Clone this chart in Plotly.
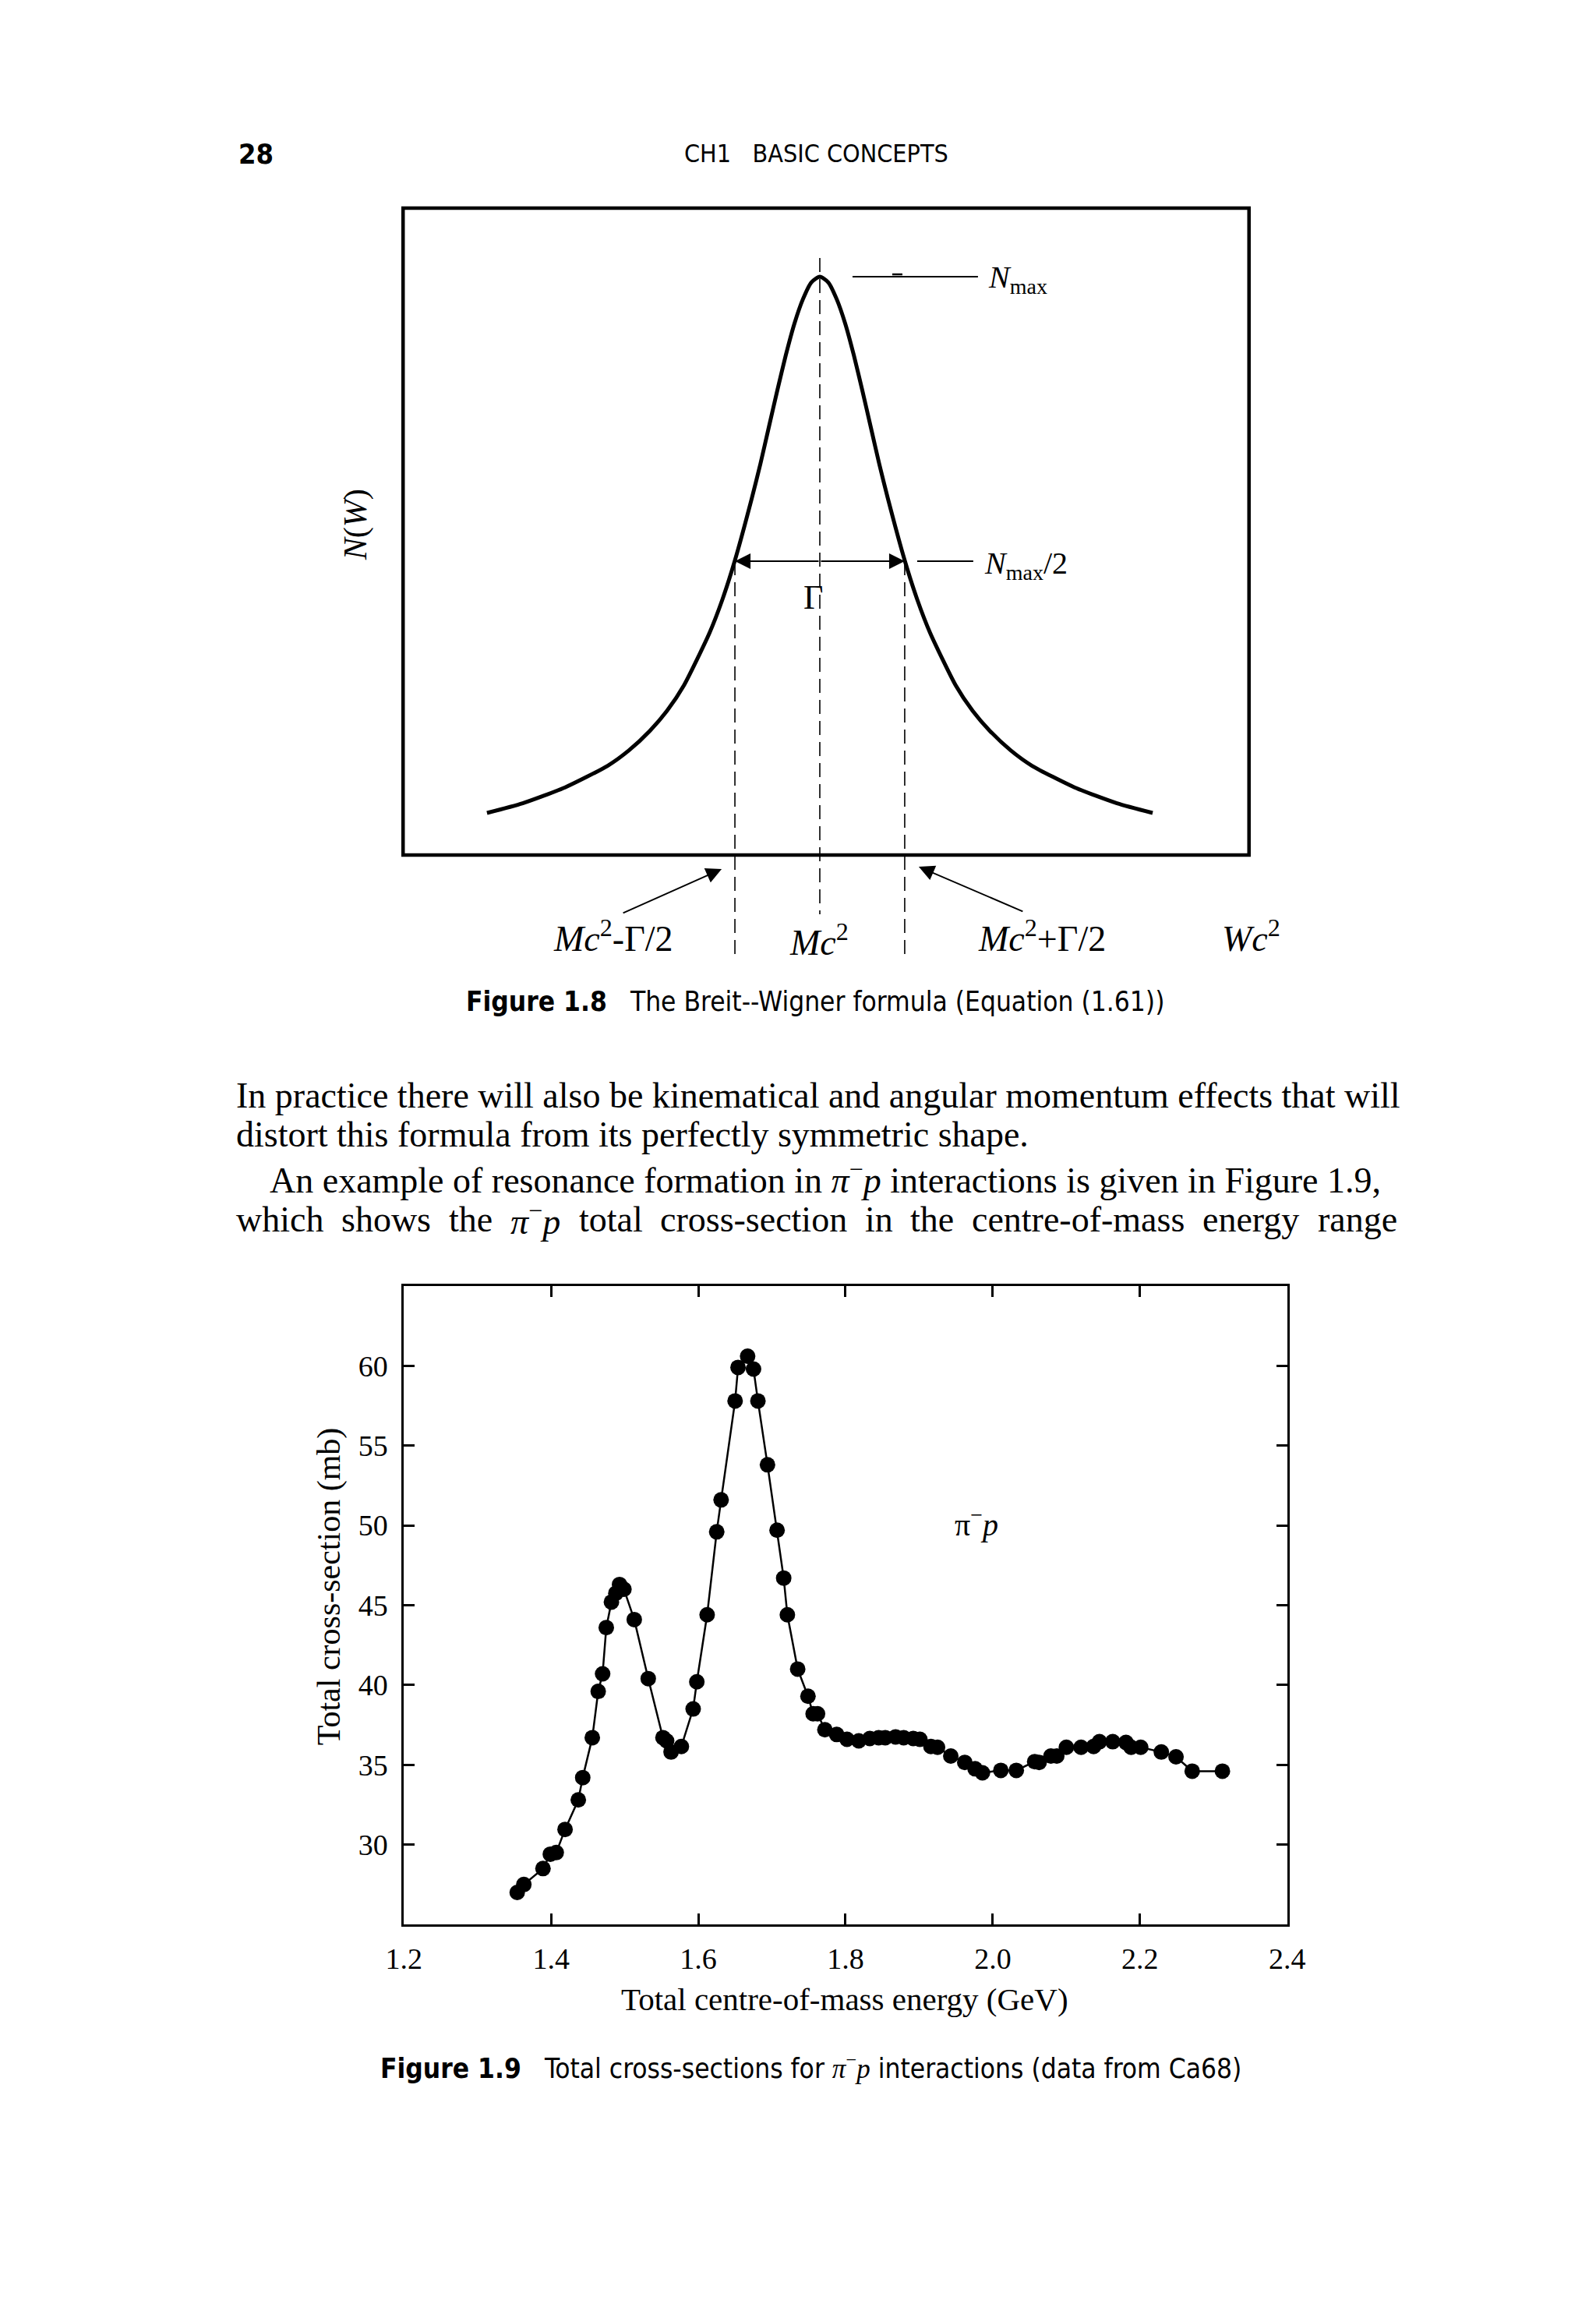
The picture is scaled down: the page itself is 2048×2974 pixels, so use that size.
import plotly.graph_objects as go

W, H = 2048, 2974

# ---------------- Figure 1.8 (Breit-Wigner) : values ----------------
# x in units of Gamma/2 measured from Mc^2, y in units of N_max
bw_x = [-3.92, -3.5, -3.0, -2.5, -2.25, -2.0, -1.8, -1.6, -1.3, -1.15, -1.0, -0.8, -0.7, -0.6, -0.5,
        -0.4, -0.3, -0.2, -0.1, 0.0,
        0.1, 0.2, 0.3, 0.4, 0.5, 0.6, 0.7, 0.8, 1.0, 1.15, 1.3, 1.6, 1.8, 2.0, 2.25, 2.5, 3.0, 3.5, 3.92]
bw_y = [0.055, 0.072, 0.10, 0.138, 0.165, 0.20, 0.235, 0.28, 0.372, 0.43, 0.50, 0.61, 0.67, 0.735, 0.80,
        0.862, 0.917, 0.96, 0.99, 1.0,
        0.99, 0.96, 0.917, 0.862, 0.80, 0.735, 0.67, 0.61, 0.50, 0.43, 0.372, 0.28, 0.235, 0.20, 0.165, 0.138,
        0.10, 0.072, 0.055]
bw_axis_labels = ["<i>Mc</i><sup>2</sup>-Γ/2", "<i>Mc</i><sup>2</sup>", "<i>Mc</i><sup>2</sup>+Γ/2", "<i>Wc</i><sup>2</sup>"]

# ---------------- Figure 1.9 (pi- p total cross-section) ----------------
energy = [1.354, 1.363, 1.389, 1.399, 1.407, 1.419, 1.437, 1.443, 1.456, 1.464, 1.470, 1.475,
          1.482, 1.488, 1.493, 1.499, 1.513, 1.532, 1.552, 1.557, 1.563, 1.577, 1.593, 1.598,
          1.612, 1.625, 1.631, 1.650, 1.654, 1.667, 1.675, 1.681, 1.694, 1.707, 1.716, 1.721,
          1.735, 1.749, 1.756, 1.762, 1.772, 1.788, 1.802, 1.818, 1.833, 1.845, 1.854, 1.868,
          1.879, 1.892, 1.901, 1.916, 1.925, 1.943, 1.962, 1.976, 1.986, 2.011, 2.032, 2.057,
          2.063, 2.079, 2.087, 2.100, 2.120, 2.137, 2.145, 2.163, 2.181, 2.188, 2.201, 2.229,
          2.249, 2.271, 2.312]
sigma = [27.0, 27.5, 28.5, 29.4, 29.5, 30.95, 32.8, 34.2, 36.7, 39.6, 40.7, 43.6,
         45.2, 45.75, 46.3, 46.0, 44.1, 40.4, 36.7, 36.5, 35.8, 36.15, 38.5, 40.2,
         44.4, 49.6, 51.6, 57.8, 59.9, 60.6, 59.8, 57.8, 53.8, 49.7, 46.7, 44.4,
         41.0, 39.3, 38.2, 38.2, 37.2, 36.9, 36.6, 36.5, 36.65, 36.7, 36.7, 36.75,
         36.7, 36.65, 36.6, 36.15, 36.1, 35.55, 35.15, 34.75, 34.5, 34.65, 34.65, 35.2,
         35.15, 35.55, 35.55, 36.1, 36.1, 36.15, 36.45, 36.45, 36.4, 36.1, 36.1, 35.8,
         35.5, 34.6, 34.6]
x_ticks = [1.2, 1.4, 1.6, 1.8, 2.0, 2.2, 2.4]
x_tick_text = ["1.2", "1.4", "1.6", "1.8", "2.0", "2.2", "2.4"]
y_ticks = [30, 35, 40, 45, 50, 55, 60]
y_tick_text = ["30", "35", "40", "45", "50", "55", "60"]

SERIF = "Liberation Serif, Times New Roman, serif"
NARROW = "Liberation Sans Narrow, DejaVu Sans Condensed, Arial Narrow, sans-serif"
BLACK = "#000000"

# observed render offset of the page (layout px -> screen px)
SX, OX, OY = 0.977, 1031.0, 8.0


def rx(L):
    return OX + SX * (L - 1024.0)


def px(p):
    return (1024.0 + (p - OX) / SX) / W


def py(p):
    return 1 - (p - OY) / H


C0, HALF = 1051.0, 109.0
N0, NMAX = 1083.0, 728.0


def fx(p):
    return (p - C0) / HALF


def fy(p):
    return (N0 - p) / NMAX


fig = go.Figure()

fig.add_trace(go.Scatter(x=bw_x, y=bw_y, mode="lines",
                         line=dict(color=BLACK, width=5, shape="spline", smoothing=0.6),
                         xaxis="x2", yaxis="y2", hoverinfo="skip", showlegend=False))

fig.add_trace(go.Scatter(x=energy, y=sigma, mode="lines+markers",
                         line=dict(color=BLACK, width=2.5),
                         marker=dict(color=BLACK, size=20, line=dict(width=0)),
                         xaxis="x", yaxis="y", hoverinfo="skip", showlegend=False))

shapes = []
shapes.append(dict(type="rect", xref="x2", yref="y2", x0=fx(516), x1=fx(1602), y0=fy(1097), y1=fy(267),
                   line=dict(color=BLACK, width=4.5)))
DASH = "18px,9px"
shapes.append(dict(type="line", xref="x2", yref="y2", x0=0, x1=0, y0=fy(331), y1=fy(1173),
                   line=dict(color=BLACK, width=1.6, dash=DASH)))
for side in (-1, 1):
    shapes.append(dict(type="line", xref="x2", yref="y2", x0=side, x1=side, y0=fy(720), y1=fy(1231),
                       line=dict(color=BLACK, width=1.6, dash=DASH)))
shapes.append(dict(type="line", xref="x2", yref="y2", x0=fx(1093), x1=fx(1254), y0=1.0, y1=1.0,
                   line=dict(color=BLACK, width=1.8)))
shapes.append(dict(type="line", xref="x2", yref="y2", x0=fx(1144), x1=fx(1157), y0=fy(352), y1=fy(352),
                   line=dict(color=BLACK, width=2.5)))
shapes.append(dict(type="line", xref="x2", yref="y2", x0=fx(1176), x1=fx(1248), y0=fy(720), y1=fy(720),
                   line=dict(color=BLACK, width=1.8)))

ann = []
ann.append(dict(xref="paper", yref="paper", x=px(303), y=py(197), xanchor="left", yanchor="middle",
                text="<b>28</b>", showarrow=False, font=dict(family=NARROW, size=36, color=BLACK)))
ann.append(dict(xref="paper", yref="paper", x=px(1047), y=py(197), xanchor="center", yanchor="middle",
                text="CH1\u00a0\u00a0\u00a0BASIC CONCEPTS", showarrow=False, font=dict(family=NARROW, size=32, color=BLACK)))

ann.append(dict(xref="x2", yref="y2", x=fx(1265), y=fy(358), xanchor="left", yanchor="middle",
                text="<i>N</i><sub>max</sub>", showarrow=False, font=dict(family=SERIF, size=40, color=BLACK)))
ann.append(dict(xref="x2", yref="y2", x=fx(1260), y=fy(725), xanchor="left", yanchor="middle",
                text="<i>N</i><sub>max</sub>/2", showarrow=False, font=dict(family=SERIF, size=40, color=BLACK)))
ann.append(dict(xref="x2", yref="y2", x=fx(1042), y=fy(766), xanchor="center", yanchor="middle",
                text="Γ", showarrow=False, font=dict(family=SERIF, size=44, color=BLACK)))
ann.append(dict(xref="x2", yref="y2", x=fx(455), y=fy(673), xanchor="center", yanchor="middle", textangle=-90,
                text="<i>N</i>(<i>W</i>)", showarrow=False, font=dict(family=SERIF, size=42, color=BLACK)))
for side in (-1, 1):
    ann.append(dict(xref="x2", yref="y2", x=side, y=fy(720), ax=0, ay=fy(720), axref="x2", ayref="y2",
                    text="", showarrow=True, arrowhead=2, arrowsize=2.0, arrowwidth=2, arrowcolor=BLACK))
ann.append(dict(xref="x2", yref="y2", x=fx(925), y=fy(1115), ax=fx(797), ay=fy(1172), axref="x2", ayref="y2",
                text="", showarrow=True, arrowhead=2, arrowsize=2.0, arrowwidth=2, arrowcolor=BLACK))
ann.append(dict(xref="x2", yref="y2", x=fx(1178), y=fy(1112), ax=fx(1313), ay=fy(1170), axref="x2", ayref="y2",
                text="", showarrow=True, arrowhead=2, arrowsize=2.0, arrowwidth=2, arrowcolor=BLACK))
label_px = [(786, 1201), (1050, 1206), (1336, 1201), (1605, 1201)]
for lab, (lx, ly) in zip(bw_axis_labels, label_px):
    ann.append(dict(xref="x2", yref="y2", x=fx(lx), y=fy(ly), xanchor="center", yanchor="middle",
                    text=lab, showarrow=False, font=dict(family=SERIF, size=46, color=BLACK)))
ann.append(dict(xref="paper", yref="paper", x=px(595), y=py(1285), xanchor="left", yanchor="middle",
                text="<b>Figure 1.8</b>\u00a0\u00a0\u00a0The Breit--Wigner formula (Equation (1.61))",
                showarrow=False, font=dict(family=NARROW, size=35, color=BLACK)))

PI = "<i>π</i><sup>−</sup><i>p</i>"
BODY = 46
body = [
    (300, 1405, "In practice there will also be kinematical and angular momentum effects that will"),
    (300, 1456, "distort this formula from its perfectly symmetric shape."),
    (343, 1511, "An example of resonance formation in " + PI + " interactions is given in Figure 1.9,"),
]
for bx, by, t in body:
    ann.append(dict(xref="paper", yref="paper", x=px(bx), y=py(by), xanchor="left", yanchor="middle",
                    text=t, showarrow=False, font=dict(family=SERIF, size=BODY, color=BLACK)))

# justified last line: spread the words over the text column using Times advance widths
TW = {'a': 444, 'b': 500, 'c': 444, 'd': 500, 'e': 444, 'f': 333, 'g': 500, 'h': 500, 'i': 278,
      'k': 500, 'l': 278, 'm': 778, 'n': 500, 'o': 500, 'p': 500, 'r': 333, 's': 389, 't': 278,
      'u': 500, 'w': 722, 'y': 500, '-': 333}
words4 = ["which", "shows", "the", PI, "total", "cross-section", "in", "the", "centre-of-mass", "energy", "range"]


def word_width(wd):
    if wd == PI:
        return (520 + 0.7 * 564 + 500) / 1000 * BODY
    return sum(TW.get(ch, 500) for ch in wd) / 1000 * BODY


COL_L, COL_R = 300.0, 1790.0
widths = [word_width(wd) for wd in words4]
gap = (COL_R - COL_L - sum(widths)) / (len(words4) - 1)
cur = COL_L
for wd, wdt in zip(words4, widths):
    ann.append(dict(xref="paper", yref="paper", x=px(cur), y=py(1564), xanchor="left", yanchor="middle",
                    text=wd, showarrow=False, font=dict(family=SERIF, size=BODY, color=BLACK)))
    cur += wdt + gap

ann.append(dict(xref="x", yref="y", x=1.978, y=50.2, xanchor="center", yanchor="middle",
                text="π<sup>−</sup><i>p</i>", showarrow=False, font=dict(family=SERIF, size=40, color=BLACK)))
ann.append(dict(xref="paper", yref="paper", x=px(1083), y=py(2565), xanchor="center", yanchor="middle",
                text="Total centre-of-mass energy (GeV)", showarrow=False, font=dict(family=SERIF, size=41, color=BLACK)))
ann.append(dict(xref="paper", yref="paper", x=px(421), y=py(2035), xanchor="center", yanchor="middle", textangle=-90,
                text="Total cross-section (mb)", showarrow=False, font=dict(family=SERIF, size=42, color=BLACK)))
ann.append(dict(xref="paper", yref="paper", x=px(485), y=py(2651), xanchor="left", yanchor="middle",
                text="<b>Figure 1.9</b>\u00a0\u00a0\u00a0Total cross-sections for <span style=\"font-family:Liberation Serif\"><i>π</i><sup>−</sup><i>p</i></span> interactions (data from Ca68)",
                showarrow=False, font=dict(family=NARROW, size=35, color=BLACK)))

fig.update_layout(
    width=W, height=H, margin=dict(l=0, r=0, t=0, b=0),
    paper_bgcolor="white", plot_bgcolor="rgba(0,0,0,0)",
    showlegend=False, shapes=shapes, annotations=ann,
    xaxis=dict(domain=[px(517), px(1651)], range=[1.2, 2.4], tickvals=x_ticks, ticktext=x_tick_text,
               showline=True, linewidth=3, linecolor=BLACK, mirror="allticks", ticks="inside", ticklen=14,
               tickwidth=3, tickcolor=BLACK, showgrid=False, zeroline=False, ticklabelstandoff=8,
               tickfont=dict(family=SERIF, size=38, color=BLACK), anchor="y"),
    yaxis=dict(domain=[py(2469), py(1650)], range=[25.0, 65.0], tickvals=y_ticks, ticktext=y_tick_text,
               showline=True, linewidth=3, linecolor=BLACK, mirror="allticks", ticks="inside", ticklen=14,
               tickwidth=3, tickcolor=BLACK, showgrid=False, zeroline=False, ticklabelstandoff=10,
               tickfont=dict(family=SERIF, size=38, color=BLACK), anchor="x"),
    xaxis2=dict(domain=[0, 1], range=[fx(rx(0)), fx(rx(W))], visible=False, anchor="y2", fixedrange=True),
    yaxis2=dict(domain=[py(1250), py(240)], range=[fy(1250), fy(240)], visible=False, anchor="x2", fixedrange=True),
)

fig.write_html("out.html")
